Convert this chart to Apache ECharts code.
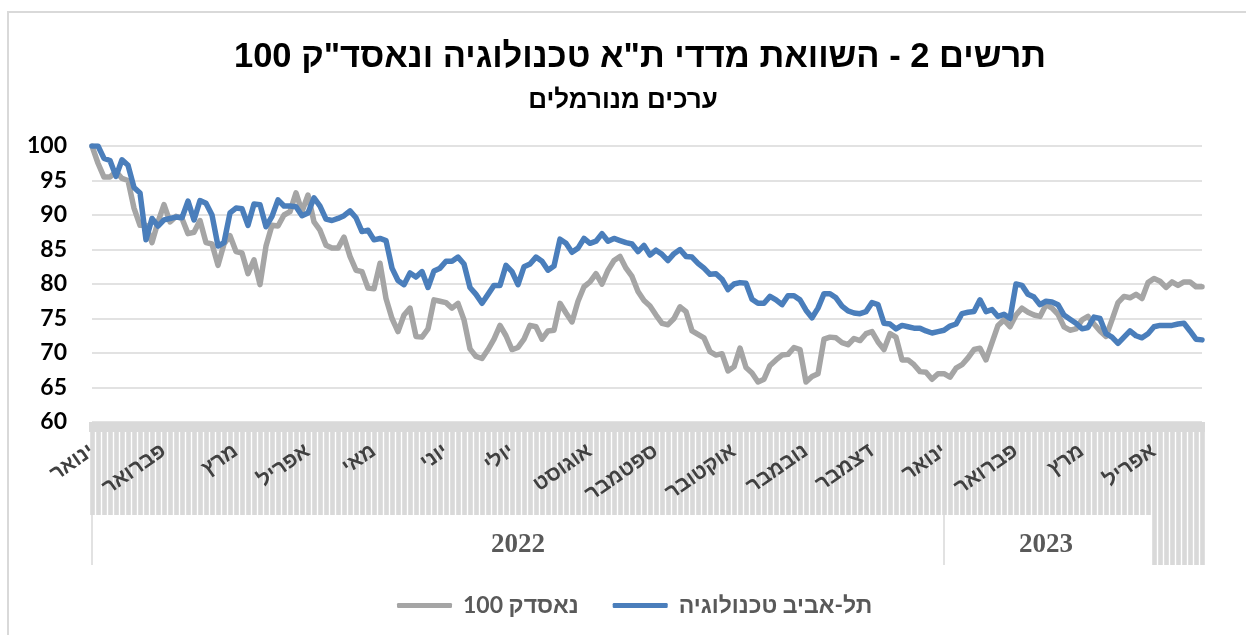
<!DOCTYPE html>
<html>
<head>
<meta charset="utf-8">
<script src="https://cdn.jsdelivr.net/npm/echarts@6/dist/echarts.min.js"></script>
<style>
  html, body { margin: 0; padding: 0; background: #fff; }
  #main { width: 1246px; height: 635px; }
</style>
</head>
<body>
<div id="main" dir="rtl"></div>
<script>
// values, one sample every ~6 px (about every 2 trading days)
var tlvTech = [
  100, 100, 98.2, 97.9, 95.6, 98.0, 97.2, 94.0, 93.2, 86.4, 89.5, 88.4, 89.3, 89.5, 89.7, 89.6, 92.0, 89.3, 92.1, 91.7,
  90.0, 85.5, 86.0, 90.3, 91.0, 90.9, 88.5, 91.6, 91.5, 88.3, 89.8, 92.2, 91.3, 91.3, 91.2, 89.9, 90.3, 92.5,
  91.3, 89.4, 89.2, 89.5, 89.9, 90.6, 89.6, 87.6, 87.8, 86.4, 86.6, 86.3, 82.3, 80.5, 79.9, 81.6, 81.0, 81.8, 79.5, 81.9,
  82.3, 83.3, 83.3, 83.9, 82.9, 79.5, 78.5, 77.2, 78.5, 79.8, 79.8, 82.7, 81.8, 79.9, 82.5, 82.9, 83.9, 83.3, 82.0, 82.6,
  86.5, 85.9, 84.6, 85.2, 86.6, 85.9, 86.2, 87.3, 86.2, 86.6,
  86.3, 86.0, 85.8, 84.7, 85.6, 84.2, 84.9, 84.3, 83.4, 84.4, 85.0, 84.0, 83.9, 83.0, 82.3, 81.4, 81.5, 80.7, 79.2, 80.0,
  80.2, 80.1, 77.8, 77.2, 77.2, 78.2, 77.7, 77.0, 78.3, 78.3, 77.7, 76.2, 75.1, 76.5, 78.6, 78.6, 78.0, 76.8, 76.1, 75.8,
  75.7, 76.0, 77.3, 77.0, 74.3, 74.2, 73.5, 74.0, 73.8, 73.6,
  73.6, 73.2, 72.9, 73.1, 73.3, 73.9, 74.2, 75.7, 75.9, 76.0, 77.7, 76.0, 76.3, 75.3, 75.6, 75.0, 80.0, 79.8, 78.5, 78.1,
  77.0, 77.5, 77.4, 77.0, 75.5, 74.9, 74.3, 73.5, 73.7, 75.2, 75.0, 72.8, 72.3, 71.4, 72.3, 73.2, 72.5, 72.2, 72.8, 73.8,
  74.0, 74.0, 74.0, 74.2, 74.3, 73.2, 72.0, 71.9
];
var nasdaq = [
  100, 97.5, 95.5, 95.5, 96.3, 95.3, 95.0, 91.0, 88.5, 88.5, 86.0, 89.0, 91.5, 89.0, 89.8, 89.5, 87.3, 87.5, 89.2, 86.0,
  85.8, 82.7, 85.8, 87.0, 84.7, 84.5, 81.5, 83.5, 79.9, 85.5, 88.5, 88.4, 90.0, 90.5, 93.2, 90.5, 92.9, 89.0,
  87.8, 85.6, 85.2, 85.2, 86.8, 84.0, 82.0, 81.8, 79.4, 79.3, 83.0, 77.9, 75.0, 73.1, 75.5, 76.5, 72.4, 72.3, 73.5, 77.7,
  77.5, 77.3, 76.5, 77.2, 74.8, 70.6, 69.5, 69.2, 70.5, 72.0, 74.0, 72.5, 70.5, 70.8, 72.0, 74.0, 73.8, 72.0, 73.2, 73.3,
  77.2, 75.8, 74.5, 77.5, 79.6, 80.3, 81.5, 80.0, 82.0, 83.4,
  84.0, 82.3, 81.1, 78.9, 77.6, 76.8, 75.5, 74.3, 74.1, 75.0, 76.7, 76.0, 73.2, 72.7, 72.2, 70.2, 69.7, 69.9, 67.4, 68.0,
  70.7, 67.9, 67.1, 65.8, 66.2, 68.2, 69.0, 69.7, 69.8, 70.8, 70.5, 65.8, 66.6, 67.0, 72.0, 72.3, 72.2, 71.5, 71.2, 72.1,
  71.8, 72.8, 73.1, 71.6, 70.5, 72.8, 72.3, 69.0, 69.0, 68.3,
  67.3, 67.2, 66.2, 67.0, 67.0, 66.5, 67.8, 68.3, 69.3, 70.5, 70.7, 69.0, 71.5, 74.0, 74.8, 73.8, 75.5, 76.5, 75.9, 75.5,
  75.3, 77.0, 76.5, 75.6, 73.8, 73.3, 73.5, 74.8, 75.3, 74.2, 73.2, 72.4, 74.8, 77.3, 78.2, 78.0, 78.5, 77.9, 80.2, 80.8,
  80.4, 79.5, 80.3, 79.8, 80.3, 80.3, 79.6, 79.6
];

// month labels and the sample where each month starts
var monthNames = ['ינואר', 'פברואר', 'מרץ', 'אפריל', 'מאי', 'יוני', 'יולי', 'אוגוסט', 'ספטמבר',
  'אוקטובר', 'נובמבר', 'דצמבר', 'ינואר', 'פברואר', 'מרץ', 'אפריל'];
var monthAt = [0, 12, 24, 36, 47, 59, 70, 83, 94, 107, 119, 130, 142, 154, 165, 177];

var yearNames = ['2022', '2023'];
var yearStart = [0, 142];
var yearLabelAt = [71, 159];
var noYearFrom = 177;

var seriesNames = ['נאסדק 100', 'תל-אביב טכנולוגיה'];

var cats = tlvTech.map(function (v, i) { return String(i); });

var chartDom = document.getElementById('main');
var myChart = echarts.init(chartDom);
var option;

var grey = '#d9d9d9';
var sans = 'Liberation Sans, Arial, DejaVu Sans, sans-serif';
var num = 'Lato, Liberation Sans, sans-serif';

option = {
  animation: false,
  backgroundColor: '#fff',
  title: [
    {
      text: 'תרשים 2 - השוואת מדדי ת"א טכנולוגיה ונאסד"ק 100',
      left: 229,
      top: 35,
      textStyle: { fontFamily: sans, fontSize: 34.5, fontWeight: 'bold', color: '#000' }
    },
    {
      text: 'ערכים מנורמלים',
      left: 'center',
      top: 83,
      textStyle: { fontFamily: sans, fontSize: 26, fontWeight: 'bold', color: '#000' }
    }
  ],
  graphic: [
    {
      type: 'rect',
      shape: { x: 8, y: 12, width: 1280, height: 660 },
      style: { fill: 'none', stroke: grey, lineWidth: 2 },
      silent: true
    }
  ],
  legend: {
    data: seriesNames,
    left: 392,
    top: 589,
    icon: 'roundRect',
    itemWidth: 55,
    itemHeight: 5,
    itemGap: 34,
    textStyle: { fontFamily: num, fontSize: 23, fontWeight: 'bold', color: '#595959', padding: [0, 0, 0, 6] }
  },
  grid: { left: 92, right: 44, top: 146, bottom: 213, containLabel: false },
  xAxis: [
    {
      type: 'category',
      position: 'bottom',
      data: cats,
      boundaryGap: false,
      axisLine: { show: false },
      axisTick: { show: true, interval: 0, length: 93, lineStyle: { color: grey, width: 4.6 } },
      axisLabel: {
        interval: function (i) { return monthAt.indexOf(i) >= 0; },
        formatter: function (v, i) { var k = monthAt.indexOf(i); return k >= 0 ? monthNames[k] : ''; },
        rotate: 35,
        margin: 27,
        fontFamily: sans,
        fontSize: 21,
        fontWeight: 'bold',
        color: '#404040'
      },
      splitLine: { show: false }
    },
    {
      type: 'category',
      position: 'bottom',
      data: cats,
      boundaryGap: false,
      axisLine: { show: false },
      axisTick: { show: true, interval: 0, length: 10, lineStyle: { color: grey, width: 6 } },
      axisLabel: { show: false }
    },
    {
      type: 'category',
      position: 'bottom',
      data: cats,
      boundaryGap: false,
      offset: 93,
      axisLine: { show: false },
      axisTick: {
        show: true,
        interval: function (i) { return yearStart.indexOf(i) >= 0; },
        length: 50,
        lineStyle: { color: grey, width: 1.5 }
      },
      axisLabel: {
        interval: function (i) { return yearLabelAt.indexOf(i) >= 0; },
        formatter: function (v, i) { var k = yearLabelAt.indexOf(i); return k >= 0 ? yearNames[k] : ''; },
        margin: 17,
        fontFamily: 'Liberation Serif, DejaVu Serif, serif',
        fontSize: 27,
        fontWeight: 'bold',
        color: '#595959'
      }
    },
    {
      type: 'category',
      position: 'bottom',
      data: cats,
      boundaryGap: false,
      offset: 93,
      axisLine: { show: false },
      axisTick: {
        show: true,
        interval: function (i) { return i >= noYearFrom; },
        length: 50,
        lineStyle: { color: grey, width: 4.6 }
      },
      axisLabel: { show: false }
    }
  ],
  yAxis: {
    type: 'value',
    min: 60,
    max: 100,
    interval: 5,
    axisLine: { show: false },
    axisTick: { show: false },
    axisLabel: { margin: 25, fontFamily: num, fontSize: 23, fontWeight: 'bold', color: '#000' },
    splitLine: { lineStyle: { color: grey, width: 1.5 } }
  },
  series: [
    {
      name: seriesNames[0],
      type: 'line',
      data: nasdaq,
      symbol: 'none',
      lineStyle: { color: '#a5a5a5', width: 5.5, cap: 'round', join: 'round' },
      itemStyle: { color: '#a5a5a5' }
    },
    {
      name: seriesNames[1],
      type: 'line',
      data: tlvTech,
      symbol: 'none',
      lineStyle: { color: '#4a7ebb', width: 5.5, cap: 'round', join: 'round' },
      itemStyle: { color: '#4a7ebb' }
    }
  ]
};

option && myChart.setOption(option);
</script>
</body>
</html>
